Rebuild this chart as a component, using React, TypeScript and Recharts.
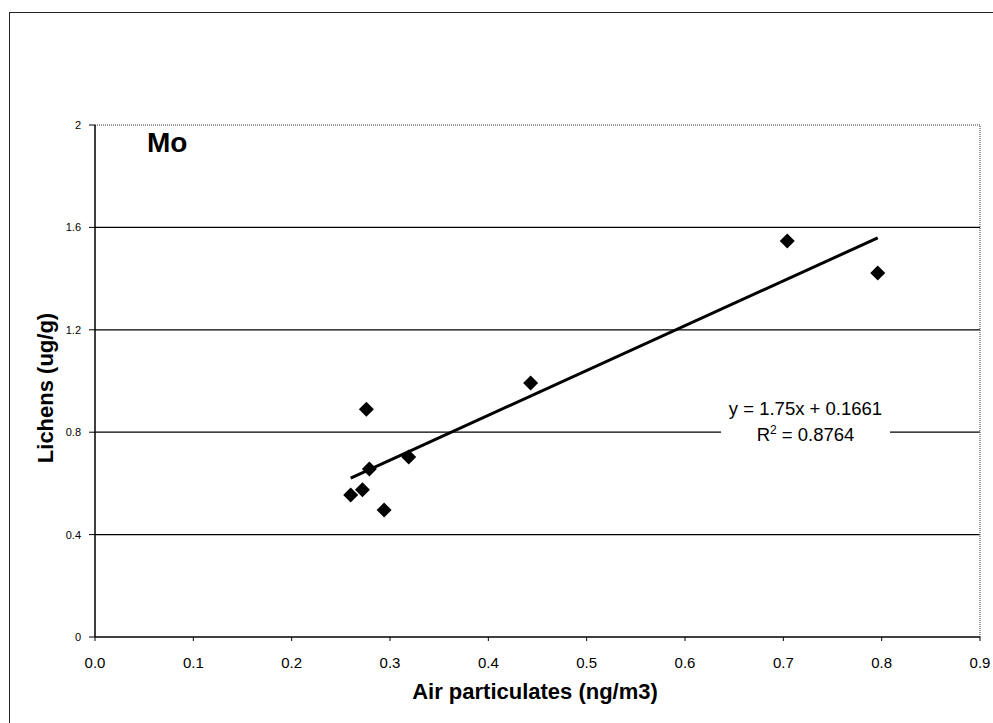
import React from "react";
import {
  ScatterChart,
  Scatter,
  XAxis,
  YAxis,
  ReferenceLine,
} from "recharts";

const xValues = [0.26, 0.272, 0.276, 0.279, 0.294, 0.319, 0.443, 0.704, 0.796];
const yValues = [0.555, 0.575, 0.89, 0.656, 0.496, 0.703, 0.992, 1.547, 1.422];
const trendX = [0.26, 0.796];
const trendY = [0.621, 1.559];
const xTicks = [0, 0.1, 0.2, 0.3, 0.4, 0.5, 0.6, 0.7, 0.8, 0.9];
const yTicks = [0, 0.4, 0.8, 1.2, 1.6, 2];
const gridValues = [0.4, 0.8, 1.2, 1.6];
const equationText = "y = 1.75x + 0.1661";
const r2Value = "0.8764";
const elementLabel = "Mo";

const points = xValues.map((x, i) => ({ x, y: yValues[i] }));
const trend = trendX.map((x, i) => ({ x, y: trendY[i] }));

const FONT = "'Liberation Sans', Arial, sans-serif";

const Diamond = (props: any) => {
  const { cx, cy } = props;
  const r = 7.5;
  return (
    <polygon
      points={`${cx},${cy - r} ${cx + r},${cy} ${cx},${cy + r} ${cx - r},${cy}`}
      fill="#000"
    />
  );
};

const NoShape = () => <g />;

export default function App() {
  return (
    <div
      style={{
        position: "absolute",
        left: 0,
        top: 0,
        width: 993,
        height: 723,
        background: "#fff",
        overflow: "hidden",
        fontFamily: FONT,
      }}
    >
      <div
        style={{
          position: "absolute",
          left: 9,
          top: 12,
          width: 990,
          height: 720,
          borderLeft: "1.5px solid #222",
          borderTop: "1.5px solid #222",
        }}
      />
      <div style={{ position: "absolute", left: 0, top: 0 }}>
        <ScatterChart
          width={993}
          height={723}
          margin={{ top: 125, right: 13, bottom: 85, left: 94 }}
        >
          <XAxis
            type="number"
            dataKey="x"
            domain={[0, 0.9]}
            ticks={xTicks}
            tickFormatter={(v: number) => v.toFixed(1)}
            height={1}
            axisLine={{ stroke: "#000", strokeWidth: 1.5 }}
            tickLine={{ stroke: "#000" }}
            tickSize={4}
            tickMargin={16}
            tick={{ fill: "#000", fontSize: 15, fontFamily: FONT }}
            interval={0}
            allowDataOverflow
          />
          <YAxis
            type="number"
            dataKey="y"
            domain={[0, 2]}
            ticks={yTicks}
            tickFormatter={(v: number) => String(v)}
            width={1}
            axisLine={{ stroke: "#000", strokeWidth: 1.5 }}
            tickLine={{ stroke: "#000" }}
            tickSize={6}
            tickMargin={8}
            tick={{ fill: "#000", fontSize: 11, fontFamily: FONT }}
            interval={0}
            allowDataOverflow
          />
          {gridValues.map((v) => (
            <ReferenceLine key={v} y={v} stroke="#000" strokeWidth={1.2} />
          ))}
          <ReferenceLine y={2} stroke="#777" strokeWidth={1.5} strokeDasharray="1 1" />
          <ReferenceLine x={0.9} stroke="#777" strokeWidth={1.5} strokeDasharray="1 1" />
          <Scatter
            data={trend}
            line={{ stroke: "#000", strokeWidth: 3 }}
            shape={NoShape}
            isAnimationActive={false}
          />
          <Scatter data={points} shape={Diamond} isAnimationActive={false} />
        </ScatterChart>
      </div>
      <div
        style={{
          position: "absolute",
          left: 721,
          top: 396,
          width: 169,
          height: 54,
          background: "#fff",
          color: "#000",
          fontSize: 18.5,
          lineHeight: "26px",
          textAlign: "center",
        }}
      >
        <div>{equationText}</div>
        <div>
          R<sup style={{ fontSize: 12, lineHeight: 0, verticalAlign: "7px" }}>2</sup> = {r2Value}
        </div>
      </div>
      <div
        style={{
          position: "absolute",
          left: 147,
          top: 127,
          fontSize: 28,
          fontWeight: "bold",
          color: "#000",
          lineHeight: "32px",
        }}
      >
        {elementLabel}
      </div>
      <div
        style={{
          position: "absolute",
          left: 535,
          top: 692,
          transform: "translate(-50%, -50%)",
          fontSize: 22,
          fontWeight: "bold",
          whiteSpace: "nowrap",
          color: "#000",
        }}
      >
        Air particulates (ng/m3)
      </div>
      <div
        style={{
          position: "absolute",
          left: 46,
          top: 388,
          transform: "translate(-50%, -50%) rotate(-90deg)",
          fontSize: 22,
          fontWeight: "bold",
          whiteSpace: "nowrap",
          color: "#000",
        }}
      >
        Lichens (ug/g)
      </div>
    </div>
  );
}
